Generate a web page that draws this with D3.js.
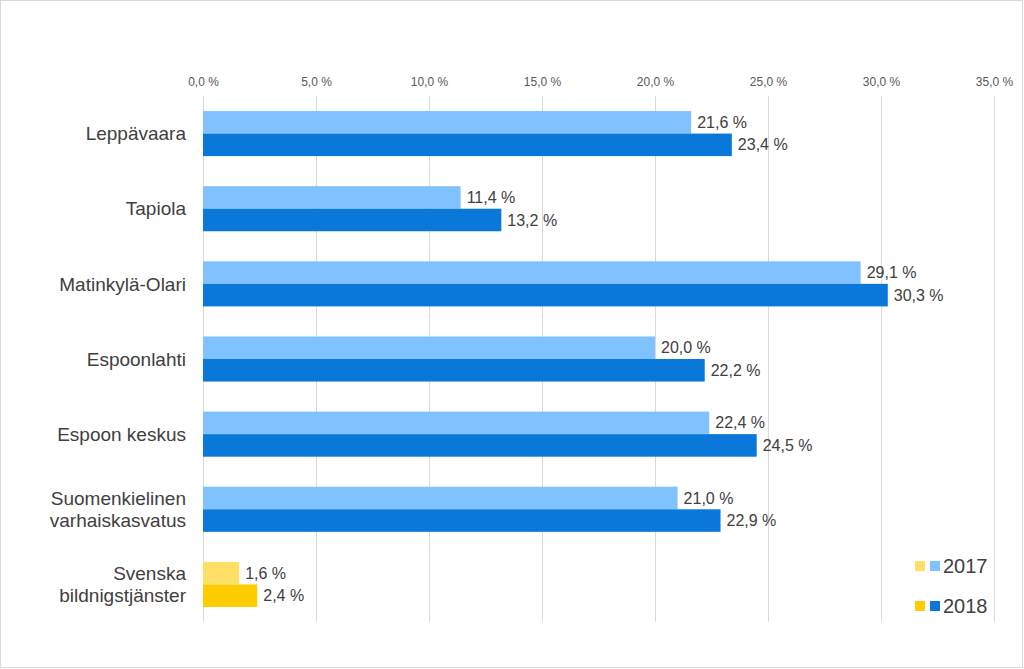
<!DOCTYPE html>
<html><head><meta charset="utf-8">
<script src="https://cdn.jsdelivr.net/npm/d3@7"></script>
<style>
body{margin:0;background:#fff;}
svg{display:block;font-family:"Liberation Sans",Arial,sans-serif;}
</style></head>
<body><svg id="c" width="1024" height="669"></svg>
<script>
const categories = ["Leppävaara","Tapiola","Matinkylä-Olari","Espoonlahti","Espoon keskus","Suomenkielinen varhaiskasvatus","Svenska bildnigstjänster"];
const categoryLines = [["Leppävaara"],["Tapiola"],["Matinkylä-Olari"],["Espoonlahti"],["Espoon keskus"],["Suomenkielinen","varhaiskasvatus"],["Svenska","bildnigstjänster"]];
const values2017 = [21.6, 11.4, 29.1, 20.0, 22.4, 21.0, 1.6];
const values2018 = [23.4, 13.2, 30.3, 22.2, 24.5, 22.9, 2.4];
const seriesNames = ["2017","2018"];
const ticks = [0,5,10,15,20,25,30,35];
const swedishIndex = 6;
const colorsBlue = ["#80c2ff","#0a78d8"];
const colorsYellow = ["#ffe066","#ffcc00"];

const svg = d3.select("#c");
const fmt = v => v.toFixed(1).replace(".", ",") + " %";

svg.append("rect").attr("x",0.5).attr("y",0.5).attr("width",1022).attr("height",667)
  .attr("fill","#fff").attr("stroke","#d9d9d9");

const x = d3.scaleLinear().domain([0,35]).range([203,994]);
const y = d3.scaleBand().domain(categories).range([96,622]).paddingInner(0.4).paddingOuter(0.2);
const ys = d3.scaleBand().domain(seriesNames).range([0,y.bandwidth()]);

// gridlines
svg.append("g").selectAll("line").data(ticks).join("line")
  .attr("x1",d=>x(d)).attr("x2",d=>x(d)).attr("y1",96).attr("y2",622)
  .attr("stroke","#d9d9d9").attr("stroke-width",1).attr("shape-rendering","crispEdges");

// top axis labels
const ax = svg.append("g").attr("transform","translate(0,86)")
  .call(d3.axisTop(x).tickValues(ticks).tickSize(0).tickPadding(0).tickFormat(fmt));
ax.select(".domain").remove();
ax.selectAll("text").attr("font-size",12).attr("fill","#595959").attr("font-family","Liberation Sans, Arial, sans-serif");

// bars
const data = [];
categories.forEach((c,i)=>{
  data.push({c, s:"2017", v:values2017[i], col:(i===swedishIndex?colorsYellow:colorsBlue)[0]});
  data.push({c, s:"2018", v:values2018[i], col:(i===swedishIndex?colorsYellow:colorsBlue)[1]});
});
svg.append("g").selectAll("rect").data(data).join("rect")
  .attr("x",x(0)).attr("y",d=>y(d.c)+ys(d.s)).attr("width",d=>x(d.v)-x(0))
  .attr("height",ys.bandwidth()).attr("fill",d=>d.col);

svg.append("g").selectAll("text").data(data).join("text")
  .attr("x",d=>x(d.v)+6).attr("y",d=>y(d.c)+ys(d.s)+ys.bandwidth()/2)
  .attr("dy","0.35em").attr("font-size",16).attr("fill","#404040").text(d=>fmt(d.v));

// category labels
const cl = svg.append("g").selectAll("text").data(categories).join("text")
  .attr("text-anchor","end").attr("font-size",19).attr("fill","#404040");
cl.each(function(d,i){
  const lines = categoryLines[i];
  const cy = y(d)+y.bandwidth()/2;
  const lh = 22;
  const t = d3.select(this);
  lines.forEach((ln,j)=>{
    t.append("tspan").attr("x",186).attr("y",cy + (j-(lines.length-1)/2)*lh).attr("dy","0.35em").text(ln);
  });
});

// legend
const lg = svg.append("g");
const legY = [566,606];
seriesNames.forEach((s,i)=>{
  lg.append("rect").attr("x",915).attr("y",legY[i]-5).attr("width",10).attr("height",10).attr("fill",colorsYellow[i]);
  lg.append("rect").attr("x",930).attr("y",legY[i]-5).attr("width",10).attr("height",10).attr("fill",colorsBlue[i]);
  lg.append("text").attr("x",943).attr("y",legY[i]).attr("dy","0.35em").attr("font-size",20).attr("fill","#404040").text(s);
});
</script></body></html>
